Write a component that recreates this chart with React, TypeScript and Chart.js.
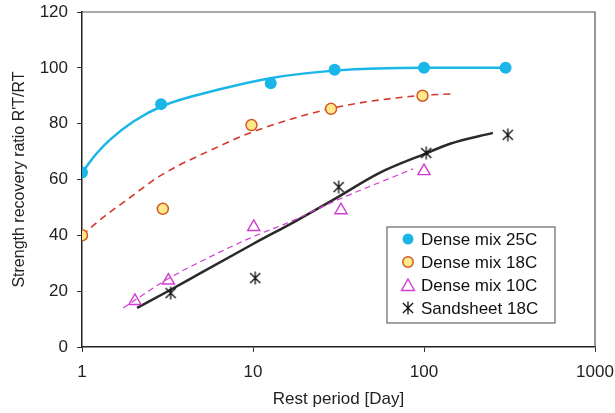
import React, { useEffect, useRef } from 'react';
import { Chart, registerables } from 'chart.js';

Chart.register(...registerables);

const FONT = "'Liberation Sans', Arial, Helvetica, sans-serif";

// ---- Data ----
const xTickValues = [1, 10, 100, 1000];
const yTickStep = 20;

const dense25X = [1, 2.9, 12.7, 30, 100, 300];
const dense25Y = [62.5, 87, 94.5, 99.3, 100, 100];
const dense25FitX = [1, 1.22, 1.46, 2, 3, 6.4, 12.6, 30, 100, 300];
const dense25FitY = [62.5, 69.4, 74.3, 80.8, 86.5, 92.3, 96.3, 99, 100, 100];

const dense18X = [1, 2.97, 9.8, 28.6, 98];
const dense18Y = [40, 49.5, 79.5, 85.3, 90];
const dense18FitX = [1, 1.3, 1.83, 2.86, 6.4, 9.6, 29.4, 91, 152];
const dense18FitY = [40, 46, 52.7, 61.3, 72, 76.7, 85.6, 90, 90.7];

const dense10X = [2.04, 3.2, 10.1, 32.7, 100];
const dense10Y = [16.5, 23.8, 43, 49, 63];
const dense10FitX = [1.74, 3.2, 4.9, 10, 16.4, 29.4, 86];
const dense10FitY = [14, 24.5, 30.5, 39.5, 44.8, 52, 63.8];

const sandX = [3.3, 10.3, 31.7, 103, 309];
const sandY = [19.3, 24.7, 57.3, 69.5, 76];
const sandFitX = [2.1, 3.3, 4.9, 10, 18, 29.4, 55, 102, 142, 253];
const sandFitY = [14, 20.5, 26.4, 36.9, 45.3, 52.7, 62.4, 69.3, 72.8, 76.7];

const legendLabels = ['Dense mix 25C', 'Dense mix 18C', 'Dense mix 10C', 'Sandsheet 18C'];

// ---- Styles ----
const CYAN = '#1bb6e8';
const RED = '#d8362c';
const ORANGE_BORDER = '#cf5a26';
const ORANGE_FILL = '#ffe98a';
const MAGENTA = '#d23cd2';
const BLACK = '#2a2a2a';

const zip = (xs: number[], ys: number[]) => xs.map((x, i) => ({ x, y: ys[i] }));

function makeAsterisk(size: number, color: string, lw: number) {
  const c = document.createElement('canvas');
  c.width = size;
  c.height = size;
  const g = c.getContext('2d')!;
  g.strokeStyle = color;
  g.lineWidth = lw;
  const m = size / 2;
  const r = size / 2 - 0.5;
  const d = r * 0.78;
  g.beginPath();
  g.moveTo(m, m - r);
  g.lineTo(m, m + r);
  g.moveTo(m - d, m - d);
  g.lineTo(m + d, m + d);
  g.moveTo(m + d, m - d);
  g.lineTo(m - d, m + d);
  g.stroke();
  return c;
}

const framePlugin = {
  id: 'frame',
  afterDraw(chart: any) {
    const { ctx, chartArea } = chart;
    const { left, right, top, bottom } = chartArea;
    ctx.save();
    ctx.strokeStyle = '#555';
    ctx.lineWidth = 1.2;
    ctx.beginPath();
    ctx.moveTo(left, top);
    ctx.lineTo(right, top);
    ctx.lineTo(right, bottom);
    ctx.stroke();
    ctx.restore();
  },
};

function makeLegendPlugin(star: HTMLCanvasElement) {
  return {
    id: 'boxLegend',
    afterDraw(chart: any) {
      const { ctx, chartArea } = chart;
      const bx = chartArea.right - 208;
      const by = chartArea.bottom - 120;
      const bw = 168;
      const bh = 96;
      ctx.save();
      ctx.fillStyle = '#fff';
      ctx.fillRect(bx, by, bw, bh);
      ctx.strokeStyle = '#666';
      ctx.lineWidth = 1.2;
      ctx.strokeRect(bx, by, bw, bh);
      ctx.font = `17px ${FONT}`;
      ctx.textBaseline = 'middle';
      ctx.textAlign = 'left';
      const mx = bx + 21;
      const tx = bx + 34;
      legendLabels.forEach((label, i) => {
        const cy = by + 12 + i * 23;
        if (i === 0) {
          ctx.fillStyle = CYAN;
          ctx.beginPath();
          ctx.arc(mx, cy, 5.5, 0, Math.PI * 2);
          ctx.fill();
        } else if (i === 1) {
          ctx.fillStyle = ORANGE_FILL;
          ctx.strokeStyle = ORANGE_BORDER;
          ctx.lineWidth = 1.5;
          ctx.beginPath();
          ctx.arc(mx, cy, 5.2, 0, Math.PI * 2);
          ctx.fill();
          ctx.stroke();
        } else if (i === 2) {
          ctx.strokeStyle = MAGENTA;
          ctx.lineWidth = 1.4;
          ctx.beginPath();
          ctx.moveTo(mx, cy - 6);
          ctx.lineTo(mx + 6.5, cy + 5.5);
          ctx.lineTo(mx - 6.5, cy + 5.5);
          ctx.closePath();
          ctx.stroke();
        } else {
          ctx.drawImage(star, mx - star.width / 2, cy - star.height / 2);
        }
        ctx.fillStyle = '#111';
        ctx.fillText(label, tx, cy + 1);
      });
      ctx.restore();
    },
  };
}

export default function App() {
  const ref = useRef<HTMLCanvasElement>(null);

  useEffect(() => {
    if (!ref.current) return;
    const star = makeAsterisk(14, '#111', 1.3);
    const chart = new Chart(ref.current, {
      type: 'scatter',
      data: {
        datasets: [
          {
            label: 'Dense mix 25C',
            data: zip(dense25X, dense25Y),
            showLine: false,
            pointStyle: 'circle',
            pointRadius: 6,
            pointBackgroundColor: CYAN,
            pointBorderColor: CYAN,
            pointBorderWidth: 0,
          },
          {
            label: 'Dense mix 18C',
            data: zip(dense18X, dense18Y),
            showLine: false,
            pointStyle: 'circle',
            pointRadius: 5.5,
            pointBackgroundColor: ORANGE_FILL,
            pointBorderColor: ORANGE_BORDER,
            pointBorderWidth: 1.5,
          },
          {
            label: 'Dense mix 10C',
            data: zip(dense10X, dense10Y),
            showLine: false,
            pointStyle: 'triangle',
            pointRadius: 7,
            pointBackgroundColor: 'rgba(0,0,0,0)',
            pointBorderColor: MAGENTA,
            pointBorderWidth: 1.4,
          },
          {
            label: 'Sandsheet 18C',
            data: zip(sandX, sandY),
            showLine: false,
            pointStyle: star as any,
            pointRadius: 7,
          },
          {
            label: 'fit25',
            data: zip(dense25FitX, dense25FitY),
            showLine: true,
            pointRadius: 0,
            borderColor: CYAN,
            borderWidth: 2.5,
            cubicInterpolationMode: 'monotone',
          },
          {
            label: 'fit18',
            data: zip(dense18FitX, dense18FitY),
            showLine: true,
            pointRadius: 0,
            borderColor: RED,
            borderWidth: 1.6,
            borderDash: [7, 5],
            cubicInterpolationMode: 'monotone',
          },
          {
            label: 'fit10',
            data: zip(dense10FitX, dense10FitY),
            showLine: true,
            pointRadius: 0,
            borderColor: MAGENTA,
            borderWidth: 1.2,
            borderDash: [6, 4],
            cubicInterpolationMode: 'monotone',
          },
          {
            label: 'fitSand',
            data: zip(sandFitX, sandFitY),
            showLine: true,
            pointRadius: 0,
            borderColor: BLACK,
            borderWidth: 2.5,
            cubicInterpolationMode: 'monotone',
          },
        ],
      },
      options: {
        responsive: false,
        animation: false,
        devicePixelRatio: 1,
        events: [],
        layout: { padding: { top: 12, right: 20, left: 0, bottom: 0 } },
        plugins: {
          legend: { display: false },
          tooltip: { enabled: false },
        },
        scales: {
          x: {
            type: 'logarithmic',
            min: 1,
            max: 1000,
            afterBuildTicks: (axis: any) => {
              axis.ticks = xTickValues.map((v) => ({ value: v }));
            },
            afterFit: (scale: any) => {
              scale.height = 66;
              scale.paddingLeft = 0;
              scale.paddingRight = 0;
              scale.paddingTop = 0;
              scale.paddingBottom = 0;
            },
            border: { display: true, color: '#222', width: 1.5 },
            grid: { drawOnChartArea: false, drawTicks: true, tickLength: 5, tickColor: '#333', lineWidth: 1 },
            ticks: {
              autoSkip: false,
              maxRotation: 0,
              padding: 10,
              color: '#222',
              font: { family: FONT, size: 17 },
              callback: (v: any) => String(v),
            },
            title: {
              display: true,
              text: 'Rest period [Day]',
              color: '#222',
              font: { family: FONT, size: 17 },
              padding: { top: 0, bottom: 3 },
            },
          },
          y: {
            type: 'linear',
            min: 0,
            max: 120,
            afterFit: (scale: any) => {
              scale.width = 82;
              scale.paddingLeft = 0;
              scale.paddingRight = 0;
              scale.paddingTop = 0;
              scale.paddingBottom = 0;
            },
            border: { display: true, color: '#222', width: 1.5 },
            grid: { drawOnChartArea: false, drawTicks: true, tickLength: 5, tickColor: '#333', lineWidth: 1 },
            ticks: {
              stepSize: yTickStep,
              padding: 9,
              color: '#222',
              font: { family: FONT, size: 17 },
            },
            title: {
              display: true,
              text: "Strength recovery ratio R'T/RT",
              color: '#222',
              font: { family: FONT, size: 16 },
              padding: { top: 10, bottom: 0 },
            },
          },
        },
      },
      plugins: [framePlugin, makeLegendPlugin(star)],
    } as any);
    return () => chart.destroy();
  }, []);

  return (
    <div style={{ position: 'fixed', left: 0, top: 0, width: 615, height: 413, background: '#fff' }}>
      <canvas ref={ref} width={615} height={413} style={{ display: 'block' }} />
    </div>
  );
}
